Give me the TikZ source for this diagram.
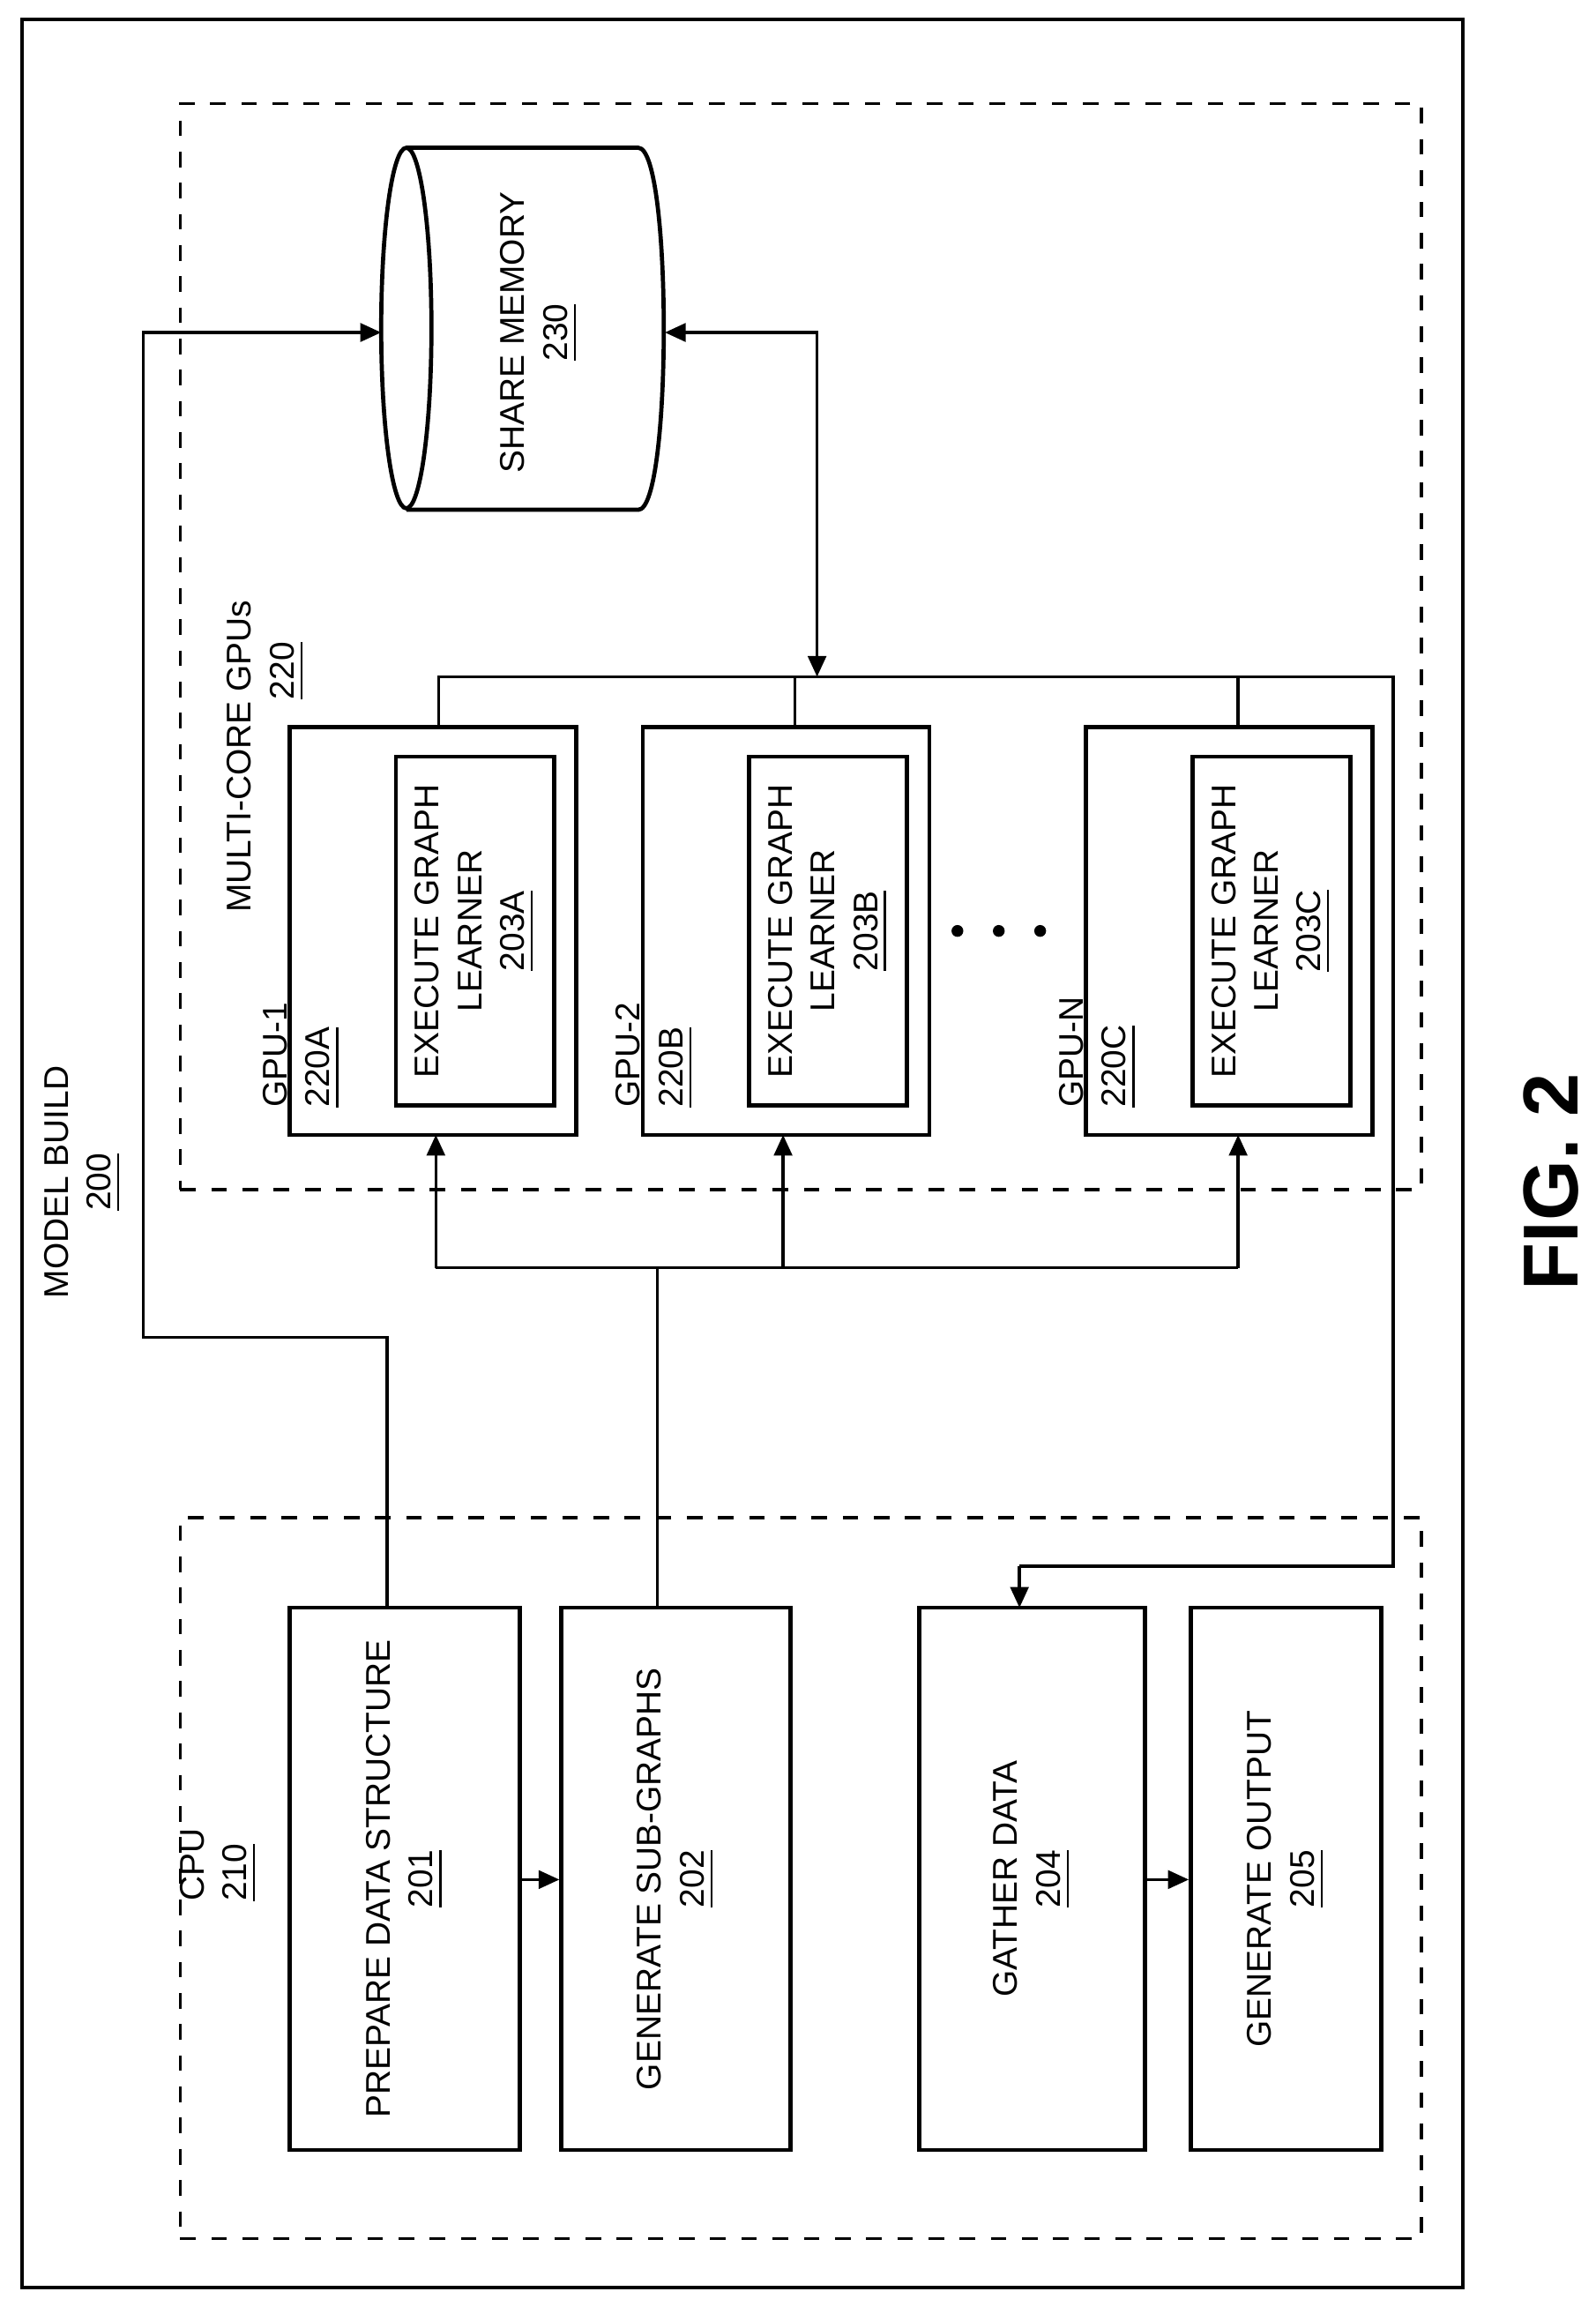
\documentclass[tikz,border=0pt]{standalone}
\usepackage{fontspec}
\setmainfont{Liberation Sans}
\usetikzlibrary{fit,arrows.meta}
\begin{document}
\begin{tikzpicture}[x=0.01cm,y=-0.01cm,
  box/.style={draw,line width=0.8pt,inner sep=0pt},
  dbox/.style={draw,dashed,line width=0.6pt,inner sep=0pt},
  txt/.style={rotate=90,align=center,font=\fontsize{6.6}{8.2}\selectfont,inner sep=0pt},
  ln/.style={line width=0.6pt},
  arr/.style={line width=0.6pt,-{Triangle[length=4pt,width=3.5pt]}}]
\useasboundingbox (0,0) rectangle (1080,1566);
\node[box,line width=0.7pt,fit={(15,13) (990,1548)}] (outer) {};
\node[txt,align=center] (mb) at (56,800) {MODEL BUILD\\\underline{200}};
\node[dbox,fit={(122,70) (962,805)}] (gpus) {};
\node[dbox,fit={(122,1027) (962,1515)}] (cpu) {};
\node[txt] (gl) at (180,512) {MULTI-CORE GPUs\\\hspace*{5em}\underline{220}};
\node[txt,align=left] (cl) at (148,1262) {CPU\\\underline{210}};
% cylinder
\draw[line width=0.8pt] (275,222) ellipse [x radius=17, y radius=122];
\draw[line width=0.8pt] (275,100) -- (432,100) .. controls (455,100) and (455,345) .. (432,345) -- (275,345);
\coordinate (memL) at (258,225);
\coordinate (memR) at (450,225);
\node[txt] (mem) at (365,225) {SHARE MEMORY\\\underline{230}};
% GPUs
\foreach \n/\x/\g/\c in {a/196/GPU-1/220A, b/435/GPU-2/220B, c/735/GPU-N/220C}{
  \node[box,fit={(\x,492) (\x+194,768)}] (g\n) {};
  \node[box,fit={(\x+72,512) (\x+179,748)}] (e\n) {};
  \node[txt,align=left,anchor=south west] (gt\n) at (\x+35,750) {\g\\\underline{\c}};
}
\node[txt] at (ea) {EXECUTE GRAPH\\LEARNER\\\underline{203A}};
\node[txt] at (eb) {EXECUTE GRAPH\\LEARNER\\\underline{203B}};
\node[txt] at (ec) {EXECUTE GRAPH\\LEARNER\\\underline{203C}};
\foreach \x in {648,676,704} \fill (\x,630) circle (4);
% CPU boxes
\node[box,fit={(196,1088) (352,1455)}] (prep) {};
\node[txt] at (prep) {PREPARE DATA STRUCTURE\\\underline{201}};
\node[box,fit={(380,1088) (535,1455)}] (gen) {};
\node[txt] at (gen) {GENERATE SUB-GRAPHS\\\underline{202}};
\node[box,fit={(622,1088) (775,1455)}] (gath) {};
\node[txt] at (gath) {GATHER DATA\\\underline{204}};
\node[box,fit={(806,1088) (935,1455)}] (out) {};
\node[txt] at (out) {GENERATE OUTPUT\\\underline{205}};
\draw[arr] (prep.east |- 0,1272) -- (gen.west |- 0,1272);
\draw[arr] (gath.east |- 0,1272) -- (out.west |- 0,1272);
% prepare -> memory
\draw[arr] (262,1088) -- (262,905) -- (97,905) -- (97,225) -- (memL);
% subgraphs -> GPUs
\draw[ln] (445,1088) -- (445,858);
\draw[ln] (295,858) -- (838,858);
\draw[arr] (295,858) -- (295,768);
\draw[arr] (530,858) -- (530,768);
\draw[arr] (838,858) -- (838,768);
% GPU top bus
\draw[ln] (297,492) -- (297,458) -- (943,458) -- (943,1060) -- (690,1060);
\draw[arr] (690,1060) -- (690,1088);
\draw[ln] (538,458) -- (538,492);
\draw[ln] (838,458) -- (838,492);
\draw[line width=0.6pt,{Triangle[length=4pt,width=3.5pt]}-{Triangle[length=4pt,width=3.5pt]}] (553,458) -- (553,225) -- (memR);
\node[rotate=90,font=\bfseries\fontsize{15}{18}\selectfont] (fig) at (1050,800) {FIG. 2};
\end{tikzpicture}
\end{document}
